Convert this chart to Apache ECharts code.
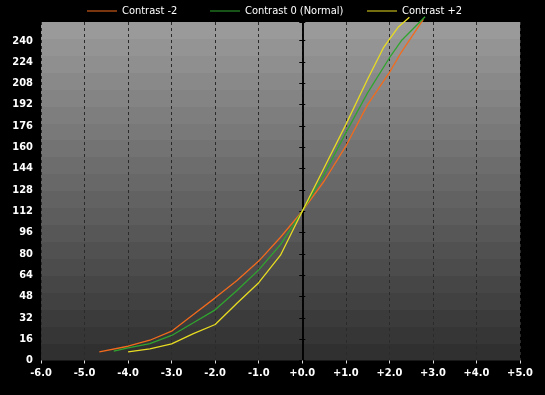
<!DOCTYPE html>
<html><head><meta charset="utf-8">
<script src="https://cdn.jsdelivr.net/npm/echarts@6/dist/echarts.min.js"></script>
<style>html,body{margin:0;padding:0;background:#000;}#c{width:545px;height:395px;}</style>
</head><body><div id="c"></div>
<script>
const seriesNames = ['Contrast -2', 'Contrast 0 (Normal)', 'Contrast +2'];
const contrastMinus2 = [[-4.66,6.5],[-4,10.7],[-3.5,15.2],[-3,22],[-2.5,34.5],[-2,47],[-1.5,60],[-1,74.6],[-0.5,92.5],[0,112],[0.5,134.5],[1,160.8],[1.5,192],[2,216],[2.25,230],[2.78,256]];
const contrastNormal = [[-4.33,7],[-4,9.5],[-3.5,12.7],[-3,18.8],[-2.5,28.3],[-2,38],[-1.5,52.5],[-1,68],[-0.5,87],[0,112],[0.5,139.5],[1,170.8],[1.5,200.8],[2,227],[2.29,240.5],[2.82,258]];
const contrastPlus2 = [[-4,6.5],[-3.5,8.8],[-3,12.5],[-2.5,20.2],[-2,27],[-1.5,43],[-1,58.4],[-0.5,79],[0,112],[0.5,144.5],[1,177],[1.5,211],[1.87,235],[2,241],[2.2,250],[2.46,257.5]];
const xMin = -6, xMax = 5, xStep = 1;
const yMin = 0, yMax = 254, yStep = 16;

const colors = ['#f26b1d', '#2fa52f', '#e8dc22'];
const font = 'DejaVu Sans Condensed';

// stepped gray gradient
const bands = 20, stops = [];
for (let i = 0; i < bands; i++) {
  const v = Math.round(154 - i * (106 / (bands - 1)));
  const c = 'rgb(' + v + ',' + v + ',' + v + ')';
  stops.push({offset: i / bands, color: c});
  stops.push({offset: (i + 1) / bands, color: c});
}

const chart = echarts.init(document.getElementById('c'));
const fmtX = v => (v < 0 ? v.toFixed(1) : '+' + v.toFixed(1));
const yBase = {type:'value', min:yMin, max:yMax, interval:yStep, splitLine:{show:false}};
const legendPos = [82, 205, 362];
chart.setOption({
  backgroundColor: '#000',
  animation: false,
  grid: {left:41, right:25, top:22, bottom:34.5, show:true, borderWidth:0,
    backgroundColor:{type:'linear', x:0, y:0, x2:0, y2:1, colorStops:stops}},
  legend: seriesNames.map((n, i) => ({
    data:[n], left:legendPos[i], top:-1, icon:'rect', itemWidth:30, itemHeight:1,
    textStyle:{color:'#fff', fontFamily:font, fontSize:11, lineHeight:14}
  })),
  xAxis: {type:'value', min:xMin, max:xMax, interval:xStep,
    axisLine:{show:false, onZero:false},
    axisTick:{show:true, length:3, lineStyle:{color:'#ddd'}},
    axisLabel:{color:'#fff', fontFamily:font, fontWeight:'bold', fontSize:11, margin:7, formatter:fmtX},
    splitLine:{show:true, lineStyle:{color:'#2a2a2a', type:[3,3], width:1}}},
  yAxis: [
    Object.assign({}, yBase, {position:'left', axisLine:{show:false, onZero:false}, axisTick:{show:false},
      axisLabel:{color:'#fff', fontFamily:font, fontWeight:'bold', fontSize:11, margin:8, showMaxLabel:false}}),
    Object.assign({}, yBase, {axisLine:{show:true, onZero:true, onZeroAxisIndex:0, lineStyle:{color:'#000', width:1.5}},
      axisTick:{show:true, inside:false, length:3, lineStyle:{color:'#000'}}, axisLabel:{show:false}}),
    Object.assign({}, yBase, {axisLine:{show:true, onZero:true, onZeroAxisIndex:0, lineStyle:{color:'#000', width:1.5}},
      axisTick:{show:true, inside:true, length:3, lineStyle:{color:'#000'}}, axisLabel:{show:false}})
  ],
  series: [contrastMinus2, contrastNormal, contrastPlus2].map((d, i) => ({
    name: seriesNames[i], type:'line', data:d, yAxisIndex:0, symbol:'none', clip:false,
    lineStyle:{color:colors[i], width:1.3}, itemStyle:{color:colors[i]}
  }))
});
</script></body></html>
